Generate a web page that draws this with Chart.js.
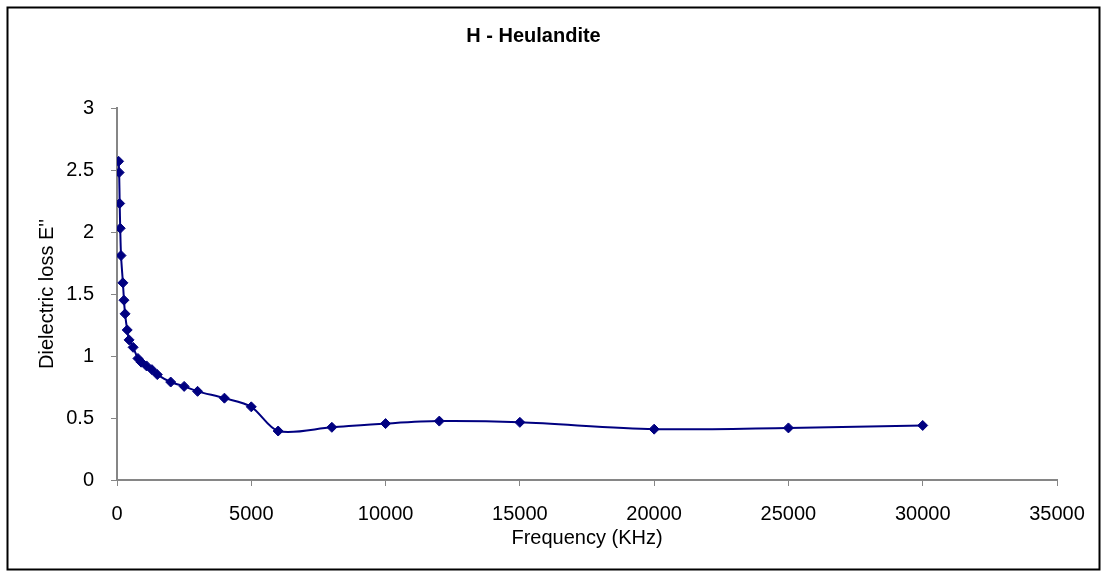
<!DOCTYPE html>
<html lang="en">
<head>
    <meta charset="UTF-8">
    <title>H - Heulandite</title>
    <script src="https://cdn.jsdelivr.net/npm/chart.js@4.4.0/dist/chart.umd.min.js"></script>
    <style>
        html, body {
            margin: 0;
            padding: 0;
            background: #fff;
        }
        #wrap {
            width: 1108px;
            height: 578px;
        }
    </style>
</head>
<body>
    <div id="wrap">
        <canvas id="chart" width="1108" height="578"></canvas>
    </div>

    <script>
        // Frequency (KHz) and dielectric loss
        const freq = [60, 80, 100, 120, 150, 220, 260, 300, 380, 450, 600, 780, 900, 1100, 1300, 1500,
                      2000, 2500, 3000, 4000, 5000, 6000, 8000, 10000, 12000, 15000, 20000, 25000, 30000];
        const loss = [2.57, 2.48, 2.23, 2.03, 1.81, 1.59, 1.45, 1.34, 1.21, 1.13, 1.07, 0.98, 0.95, 0.92, 0.89, 0.85,
                      0.79, 0.755, 0.715, 0.66, 0.59, 0.395, 0.425, 0.455, 0.475, 0.465, 0.41, 0.42, 0.44];

        const font = 'Arial, "Liberation Sans", sans-serif';
        const axisGrey = '#868686';

        // black frame round the whole chart
        const framePlugin = {
            id: 'frame',
            afterDraw(chart) {
                const ctx = chart.ctx;
                ctx.save();
                ctx.strokeStyle = '#000';
                ctx.lineWidth = 2;
                ctx.strokeRect(7.5, 7.5, 1092, 562);
                ctx.restore();
            }
        };

        new Chart(document.getElementById('chart'), {
            type: 'line',
            data: {
                datasets: [{
                    label: 'H - Heulandite',
                    data: freq.map((f, i) => ({ x: f, y: loss[i] })),
                    borderColor: '#000080',
                    backgroundColor: '#000080',
                    borderWidth: 2,
                    pointStyle: 'rectRot',
                    pointRadius: 5,
                    pointBorderWidth: 1,
                    tension: 0.3,
                    fill: false
                }]
            },
            options: {
                responsive: false,
                animation: false,
                devicePixelRatio: 1,
                layout: {
                    padding: { left: 10, right: 51, top: 10, bottom: 10 }
                },
                plugins: {
                    legend: { display: false },
                    tooltip: { enabled: false },
                    title: {
                        display: true,
                        text: 'H - Heulandite',
                        color: '#000',
                        font: { family: font, size: 20, weight: 'bold' },
                        padding: { top: 14, bottom: 60 }
                    }
                },
                scales: {
                    x: {
                        type: 'linear',
                        min: 0,
                        max: 35000,
                        border: { display: true, color: axisGrey, width: 2 },
                        grid: { drawOnChartArea: false, drawTicks: true, tickLength: 6, color: axisGrey },
                        ticks: {
                            stepSize: 5000,
                            maxRotation: 0,
                            padding: 16,
                            color: '#000',
                            font: { family: font, size: 20 },
                            callback: v => String(v)
                        },
                        title: {
                            display: true,
                            text: 'Frequency (KHz)',
                            color: '#000',
                            font: { family: font, size: 20 },
                            padding: { top: 0, bottom: 18 }
                        },
                        afterFit(scale) {
                            scale.height = 88;
                            scale.paddingLeft = 0;
                            scale.paddingRight = 0;
                        }
                    },
                    y: {
                        min: 0,
                        max: 3,
                        border: { display: true, color: axisGrey, width: 2 },
                        grid: { drawOnChartArea: false, drawTicks: true, tickLength: 6, color: axisGrey },
                        ticks: {
                            stepSize: 0.5,
                            padding: 17,
                            color: '#000',
                            font: { family: font, size: 20 },
                            callback: v => String(v)
                        },
                        title: {
                            display: true,
                            text: "Dielectric loss E''",
                            color: '#000',
                            font: { family: font, size: 20 },
                            padding: { top: 25, bottom: 0 }
                        },
                        afterFit(scale) {
                            scale.width = 107;
                            scale.paddingTop = 0;
                            scale.paddingBottom = 0;
                        }
                    }
                }
            },
            plugins: [framePlugin]
        });
    </script>
</body>
</html>
